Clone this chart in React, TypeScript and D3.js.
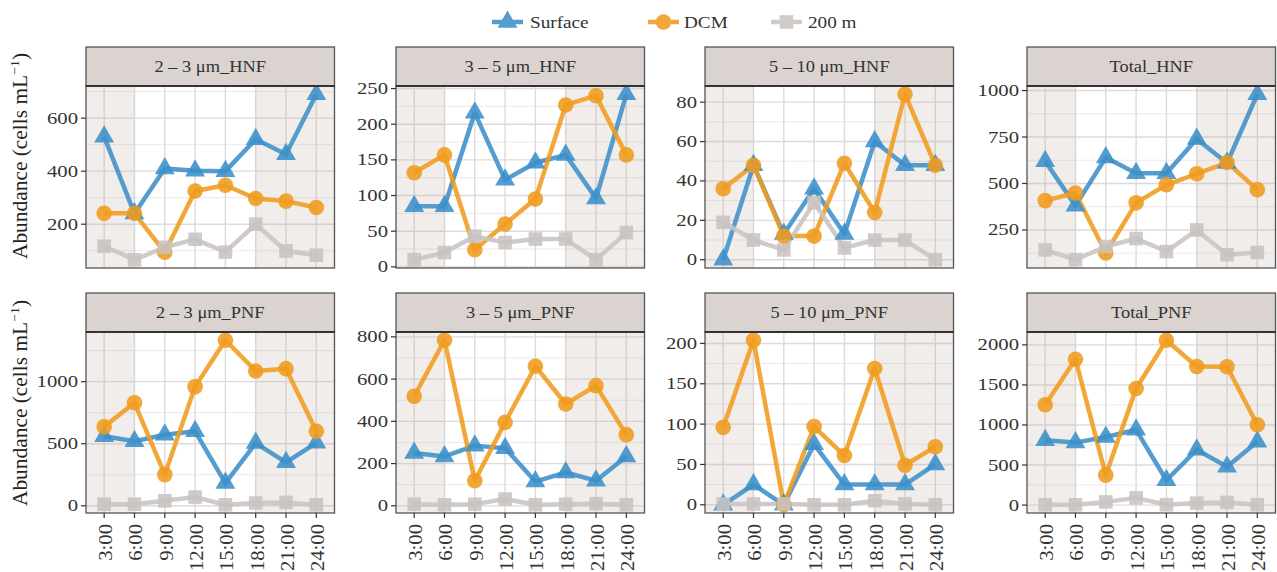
import React from "react";
import * as d3 from "d3";

const times = ["3:00", "6:00", "9:00", "12:00", "15:00", "18:00", "21:00", "24:00"];
const panelTitles = [
  "2 – 3 μm_HNF", "3 – 5 μm_HNF", "5 – 10 μm_HNF", "Total_HNF",
  "2 – 3 μm_PNF", "3 – 5 μm_PNF", "5 – 10 μm_PNF", "Total_PNF",
];
const seriesNames = ["Surface", "DCM", "200 m"];

const surface = [
  [530, 240, 410, 402, 400, 520, 464, 690],
  [85, 85, 216, 122, 146, 157, 96, 242],
  [0, 48, 13, 36, 13, 60, 48, 48],
  [620, 381, 640, 555, 555, 740, 610, 980],
  [560, 520, 572, 600, 183, 505, 350, 507],
  [250, 234, 285, 273, 115, 158, 119, 234],
  [0, 25, 0, 75, 25, 25, 25, 50],
  [810, 780, 850, 940, 310, 690, 480, 790],
];
const dcm = [
  [241, 241, 94, 325, 347, 297, 287, 263],
  [132, 157, 24, 60, 95, 227, 240, 157],
  [36, 48, 12, 12, 49, 24, 84, 48],
  [408, 449, 126, 396, 493, 552, 613, 467],
  [636, 830, 251, 960, 1334, 1086, 1105, 601],
  [519, 784, 119, 395, 661, 482, 569, 337],
  [96, 204, 0, 97, 61, 169, 49, 72],
  [1252, 1821, 374, 1455, 2058, 1730, 1726, 1002],
];
const m200 = [
  [117, 66, 113, 143, 95, 200, 99, 83],
  [10, 20, 43, 34, 39, 39, 10, 48],
  [19, 10, 5, 29, 6, 10, 10, 0],
  [143, 90, 161, 204, 134, 250, 117, 129],
  [13, 13, 40, 70, 8, 22, 27, 8],
  [8, 5, 8, 32, 5, 8, 10, 5],
  [1, 1, 1, 0, 0, 5, 1, 0],
  [4, 4, 40, 90, 5, 25, 33, 5],
];
const yTicks = [
  [200, 400, 600],
  [0, 50, 100, 150, 200, 250],
  [0, 20, 40, 60, 80],
  [250, 500, 750, 1000],
  [0, 500, 1000],
  [0, 200, 400, 600, 800],
  [0, 50, 100, 150, 200],
  [0, 500, 1000, 1500, 2000],
];
const nightStart = "6:00";
const nightEnd = "18:00";

const colors = ["#3d90ca", "#f09c1e", "#c9c4c1"];
const FONT = "Liberation Serif, Times New Roman, DejaVu Serif, serif";

const W = 1277;
const H = 572;
const colLefts = [86, 396, 705, 1027];
const panelW = 248.5;
const rowTops = [47, 293];
const stripH = 39;
const plotH = [182, 181];

function Marker({ kind, x, y, color }: { kind: number; x: number; y: number; color: string }) {
  if (kind === 0) {
    const r = 11.5;
    const p = d3.path();
    p.moveTo(x, y - r);
    p.lineTo(x + r * 0.866, y + r * 0.5);
    p.lineTo(x - r * 0.866, y + r * 0.5);
    p.closePath();
    return <path d={p.toString()} fill={color} />;
  }
  if (kind === 1) return <circle cx={x} cy={y} r={7.8} fill={color} />;
  return <rect x={x - 6.8} y={y - 6.8} width={13.6} height={13.6} fill={color} />;
}

function HText({ x, y, sx, anchor, size, children, fill = "#333" }: any) {
  return (
    <text
      transform={`translate(${x},${y}) scale(${sx},1)`}
      textAnchor={anchor}
      fontSize={size}
      style={{ fontFamily: FONT }}
      fill={fill}
    >
      {children}
    </text>
  );
}

function Panel({ idx }: { idx: number }) {
  const col = idx % 4;
  const row = Math.floor(idx / 4);
  const left = colLefts[col];
  const top = rowTops[row];
  const pTop = top + stripH;
  const pBot = pTop + plotH[row];
  const right = left + panelW;

  // discrete x scale with 0.6 expansion on each side (ggplot default)
  const x = d3
    .scalePoint<string>()
    .domain(times)
    .range([left + (0.6 * panelW) / 8.2, right - (0.6 * panelW) / 8.2]);
  const xp = (t: string) => x(t) as number;

  const series = [surface[idx], dcm[idx], m200[idx]];
  const all = series.flat();
  const [mn, mx] = d3.extent(all) as [number, number];
  const pad = (mx - mn) * 0.05;
  const y = d3.scaleLinear().domain([mn - pad, mx + pad]).range([pBot, pTop]);

  const ticks = yTicks[idx];
  const stepT = ticks[1] - ticks[0];
  const minor: number[] = [];
  for (let v = ticks[0] - stepT / 2; v <= mx + pad; v += stepT) {
    if (v >= mn - pad) minor.push(v);
  }

  const line = d3.line<number>().x((_, i) => xp(times[i])).y((d) => y(d));

  return (
    <g>
      <rect x={left} y={pTop} width={panelW} height={plotH[row]} fill="#fff" />
      {minor.map((v, i) => (
        <line key={"mi" + i} x1={left} x2={right} y1={y(v)} y2={y(v)} stroke="#ece9e9" strokeWidth={1} />
      ))}
      {ticks.map((v, i) => (
        <line key={"ma" + i} x1={left} x2={right} y1={y(v)} y2={y(v)} stroke="#dedada" strokeWidth={1.4} />
      ))}
      {times.map((t) => (
        <line key={"v" + t} x1={xp(t)} x2={xp(t)} y1={pTop} y2={pBot} stroke="#dedada" strokeWidth={1.4} />
      ))}
      <rect x={left} y={pTop} width={xp(nightStart) - left} height={plotH[row]} fill="#b9a39a" opacity={0.2} />
      <rect x={xp(nightEnd)} y={pTop} width={right - xp(nightEnd)} height={plotH[row]} fill="#b9a39a" opacity={0.2} />
      {series.map((s, k) => (
        <path key={"l" + k} d={line(s) || ""} fill="none" stroke={colors[k]} strokeWidth={4.5} opacity={0.88} strokeLinejoin="round" />
      ))}
      {series.map((s, k) => (
        <g key={"p" + k} opacity={0.88}>
          {s.map((v, i) => (
            <Marker key={i} kind={k} x={xp(times[i])} y={y(v)} color={colors[k]} />
          ))}
        </g>
      ))}
      <rect x={left} y={pTop} width={panelW} height={plotH[row]} fill="none" stroke="#555" strokeWidth={1.3} />
      <rect x={left} y={top} width={panelW} height={stripH} fill="#dad3d0" stroke="#555" strokeWidth={1.3} />
      <line x1={left} x2={right} y1={pTop} y2={pTop} stroke="#333" strokeWidth={2} />
      <HText x={(left + right) / 2} y={top + 25} sx={1.15} anchor="middle" size={16}>
        {panelTitles[idx]}
      </HText>
      {ticks.map((v, i) => (
        <g key={"t" + i}>
          <line x1={left - 5} x2={left} y1={y(v)} y2={y(v)} stroke="#333" strokeWidth={1.2} />
          <HText x={left - 8} y={y(v) + 5.5} sx={1.22} anchor="end" size={17}>
            {v}
          </HText>
        </g>
      ))}
      {row === 1 &&
        times.map((t) => (
          <g key={"xt" + t}>
            <line x1={xp(t)} x2={xp(t)} y1={pBot} y2={pBot + 5} stroke="#333" strokeWidth={1.2} />
            <text
              transform={`translate(${xp(t) + 8},${pBot + 11}) rotate(-90) scale(1.15,1)`}
              textAnchor="end"
              fontSize={18}
              style={{ fontFamily: FONT }}
              fill="#333"
            >
              {t}
            </text>
          </g>
        ))}
    </g>
  );
}

function Legend() {
  const items = [
    { x0: 492, x1: 523, tx: 530 },
    { x0: 648, x1: 679, tx: 684 },
    { x0: 771, x1: 802, tx: 808 },
  ];
  const yc = 22;
  return (
    <g>
      {items.map((it, k) => (
        <g key={k}>
          <g opacity={0.88}>
            <line x1={it.x0} x2={it.x1} y1={yc} y2={yc} stroke={colors[k]} strokeWidth={4.5} />
            <Marker kind={k} x={(it.x0 + it.x1) / 2} y={yc} color={colors[k]} />
          </g>
          <HText x={it.tx} y={28} sx={1.2} anchor="start" size={16}>
            {seriesNames[k]}
          </HText>
        </g>
      ))}
    </g>
  );
}

function AxisTitle({ cy }: { cy: number }) {
  return (
    <text
      transform={`translate(27,${cy}) rotate(-90) scale(1.07,1)`}
      textAnchor="middle"
      fontSize={20}
      style={{ fontFamily: FONT }}
      fill="#222"
    >
      Abundance (cells mL
      <tspan fontSize={13} dy={-8}>−1</tspan>
      <tspan dy={8}>)</tspan>
    </text>
  );
}

export default function App() {
  return (
    <svg width={W} height={H} style={{ position: "absolute", left: 0, top: 0, background: "#fff" }}>
      <rect width={W} height={H} fill="#fff" />
      <Legend />
      {panelTitles.map((_, i) => (
        <Panel key={i} idx={i} />
      ))}
      <AxisTitle cy={156} />
      <AxisTitle cy={403} />
    </svg>
  );
}
